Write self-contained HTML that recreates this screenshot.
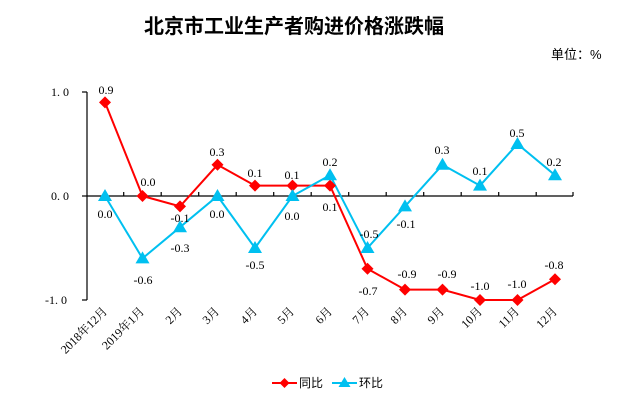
<!DOCTYPE html>
<html><head><meta charset="utf-8"><style>
body{margin:0;background:#fff}
svg text{font-family:"Liberation Serif","Noto Serif CJK SC",serif;font-size:12px;fill:#000}
.cj{font-family:"Liberation Sans","Noto Sans CJK SC",sans-serif}
</style></head><body>
<svg width="642" height="407" viewBox="0 0 642 407" xmlns="http://www.w3.org/2000/svg">
<text x="294" y="33" text-anchor="middle" class="cj" style="font-size:20px;font-weight:bold">北京市工业生产者购进价格涨跌幅</text>
<text x="551" y="59" class="cj" style="font-size:13px">单位：%</text>
<g stroke="#000" stroke-width="1.2" fill="none">
<line x1="87" y1="92" x2="87" y2="300"/>
<line x1="82" y1="92" x2="87" y2="92"/><line x1="82" y1="196" x2="87" y2="196"/><line x1="82" y1="300" x2="87" y2="300"/>
<line x1="87" y1="196" x2="573" y2="196"/>
<path d="M123.7 196v-4M161.2 196v-4M198.7 196v-4M236.2 196v-4M273.7 196v-4M311.2 196v-4M348.7 196v-4M386.2 196v-4M423.7 196v-4M461.2 196v-4M498.7 196v-4M536.2 196v-4M573 196v-4"/>
</g>
<text x="51" y="96">1. 0</text><text x="51" y="200">0. 0</text><text x="45" y="304">-1. 0</text>
<g class="cj" style="font-size:11.5px">
<text transform="translate(108,312) rotate(-45)" text-anchor="end">2018年12月</text>
<text transform="translate(145,312) rotate(-45)" text-anchor="end">2019年1月</text>
<text transform="translate(183,312) rotate(-45)" text-anchor="end">2月</text>
<text transform="translate(220,312) rotate(-45)" text-anchor="end">3月</text>
<text transform="translate(258,312) rotate(-45)" text-anchor="end">4月</text>
<text transform="translate(295,312) rotate(-45)" text-anchor="end">5月</text>
<text transform="translate(333,312) rotate(-45)" text-anchor="end">6月</text>
<text transform="translate(370,312) rotate(-45)" text-anchor="end">7月</text>
<text transform="translate(408,312) rotate(-45)" text-anchor="end">8月</text>
<text transform="translate(445,312) rotate(-45)" text-anchor="end">9月</text>
<text transform="translate(483,312) rotate(-45)" text-anchor="end">10月</text>
<text transform="translate(520,312) rotate(-45)" text-anchor="end">11月</text>
<text transform="translate(558,312) rotate(-45)" text-anchor="end">12月</text>
</g>
<polyline fill="none" stroke="#ff0000" stroke-width="2" points="105,102.4 142.5,196 180,206.4 217.5,164.8 255,185.6 292.5,185.6 330,185.6 367.5,268.8 405,289.6 442.5,289.6 480,300 517.5,300 555,279.2"/>
<polyline fill="none" stroke="#00c0f0" stroke-width="2" points="105,196 142.5,258.4 180,227.2 217.5,196 255,248 292.5,196 330,175.2 367.5,248 405,206.4 442.5,164.8 480,185.6 517.5,144 555,175.2"/>
<g fill="#ff0000">
<path d="M105 96.4l6 6-6 6-6-6z"/><path d="M142.5 190l6 6-6 6-6-6z"/><path d="M180 200.4l6 6-6 6-6-6z"/><path d="M217.5 158.8l6 6-6 6-6-6z"/><path d="M255 179.6l6 6-6 6-6-6z"/><path d="M292.5 179.6l6 6-6 6-6-6z"/><path d="M330 179.6l6 6-6 6-6-6z"/><path d="M367.5 262.8l6 6-6 6-6-6z"/><path d="M405 283.6l6 6-6 6-6-6z"/><path d="M442.5 283.6l6 6-6 6-6-6z"/><path d="M480 294l6 6-6 6-6-6z"/><path d="M517.5 294l6 6-6 6-6-6z"/><path d="M555 273.2l6 6-6 6-6-6z"/>
</g>
<g fill="#00c0f0">
<path d="M105 189l7 12h-14z"/><path d="M142.5 251.4l7 12h-14z"/><path d="M180 220.2l7 12h-14z"/><path d="M217.5 189l7 12h-14z"/><path d="M255 241l7 12h-14z"/><path d="M292.5 189l7 12h-14z"/><path d="M330 168.2l7 12h-14z"/><path d="M367.5 241l7 12h-14z"/><path d="M405 199.4l7 12h-14z"/><path d="M442.5 157.8l7 12h-14z"/><path d="M480 178.6l7 12h-14z"/><path d="M517.5 137l7 12h-14z"/><path d="M555 168.2l7 12h-14z"/>
</g>
<g text-anchor="middle">
<text x="106" y="94">0.9</text><text x="148" y="186">0.0</text><text x="180" y="222">-0.1</text><text x="217" y="156">0.3</text><text x="255" y="177">0.1</text><text x="292" y="179">0.1</text><text x="330" y="211">0.1</text><text x="368" y="295">-0.7</text><text x="407" y="278">-0.9</text><text x="447" y="278">-0.9</text><text x="480" y="290">-1.0</text><text x="517" y="288">-1.0</text><text x="554" y="269">-0.8</text>
<text x="105" y="218">0.0</text><text x="143" y="284">-0.6</text><text x="180" y="252">-0.3</text><text x="217" y="218">0.0</text><text x="255" y="269">-0.5</text><text x="292" y="220">0.0</text><text x="330" y="166">0.2</text><text x="369" y="238">-0.5</text><text x="406" y="228">-0.1</text><text x="442" y="154">0.3</text><text x="480" y="175">0.1</text><text x="517" y="137">0.5</text><text x="554" y="166">0.2</text>
</g>
<line x1="272" y1="383" x2="297" y2="383" stroke="#ff0000" stroke-width="2"/>
<path d="M284.5 378l5 5-5 5-5-5z" fill="#ff0000"/>
<text x="299" y="387" class="cj" style="font-size:12px">同比</text>
<line x1="332" y1="383" x2="357" y2="383" stroke="#00c0f0" stroke-width="2"/>
<path d="M344.5 377l6 10h-12z" fill="#00c0f0"/>
<text x="359" y="387" class="cj" style="font-size:12px">环比</text>
</svg>
</body></html>
